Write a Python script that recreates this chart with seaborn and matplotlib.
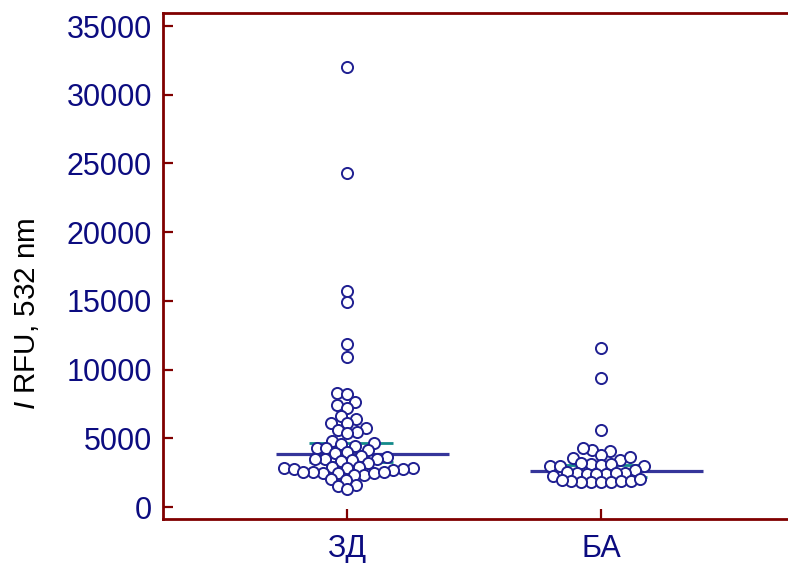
import matplotlib
matplotlib.use("Agg")
import matplotlib.pyplot as plt
import seaborn as sns
import pandas as pd

# ---- data ----
groups = ["ЗД", "БА"]
zd_values = [32000, 24300, 15700, 14900, 11850, 10900,
             8280, 8260, 7650, 7420, 7230,
             6620, 6400, 6100, 6080,
             5730, 5600, 5480, 5360,
             4830, 4680, 4590, 4440,
             4270, 4260, 4150, 4020, 3900,
             3710, 3620,
             3470, 3460, 3480, 3420, 3370, 3180,
             2820, 2810, 2930, 2940, 2860,
             2740, 2750, 2730,
             2330, 2320,
             2450, 2460, 2440,
             2570, 2560, 2580,
             1970, 2010,
             1600, 1530, 1290]
ba_values = [11550, 9400, 5620,
             4100, 4120, 4270,
             3790,
             3420, 3610, 3590,
             2980, 2990, 3160, 3060, 2970, 3180, 3150,
             2690,
             2450, 2400, 2410, 2400, 2500, 2500, 2520, 2260,
             1800, 1800, 1800, 1800, 1890, 1900, 1890, 1970, 2010]
medians = [3835, 2640]
ci_low = [3253, 2200]
ci_high = [4658, 3050]
y_ticks = [0, 5000, 10000, 15000, 20000, 25000, 30000, 35000]
y_label = r"$\mathit{I}$ RFU, 532 nm"

# ---- style ----
sns.set_style("white")
plt.rcParams["font.family"] = ["Liberation Sans", "DejaVu Sans"]
plt.rcParams["mathtext.fontset"] = "custom"
plt.rcParams["mathtext.it"] = "Liberation Sans:italic"
plt.rcParams["mathtext.rm"] = "Liberation Sans"

frame_col = "#800000"
navy_txt = "#0c0c80"
pt_col = "#1f1f91"
med_col = "#35359a"
ci_col = "#138a8a"

df = pd.DataFrame({
    "group": [groups[0]] * len(zd_values) + [groups[1]] * len(ba_values),
    "value": zd_values + ba_values,
})

fig = plt.figure(figsize=(7.88, 5.63), dpi=100)
ax = fig.add_axes([0.2069, 0.0782, 0.7931, 0.8987])

# swarm layout computed with slightly smaller markers, drawn larger
sns.swarmplot(data=df, x="group", y="value", order=groups, ax=ax,
              color="white", edgecolor=pt_col, linewidth=1.0, size=5.8,
              zorder=3)

for i, g in enumerate(groups):
    ax.hlines(medians[i], i - 0.28, i + 0.40, color=med_col, lw=2.3, zorder=1.5)
    ax.hlines([ci_low[i], ci_high[i]], i - 0.15, i + 0.18, color=ci_col,
              lw=2.0, zorder=1.4)

ax.set_xlim(-0.724, 1.736)
ax.set_ylim(-870, 35950)
ax.set_yticks(y_ticks)
ax.set_yticklabels([str(v) for v in y_ticks])
ax.set_xlabel("")
ax.set_ylabel(y_label, fontsize=21.3, color="black")
ax.yaxis.set_label_coords(-0.195, 0.406)

for side in ["left", "bottom", "top"]:
    ax.spines[side].set_color(frame_col)
    ax.spines[side].set_linewidth(2.0)
ax.spines["right"].set_visible(False)

ax.tick_params(axis="both", direction="in", length=7.5, width=1.6,
               color=frame_col, labelcolor=navy_txt, labelsize=22)
ax.tick_params(axis="y", pad=8, left=True)
ax.tick_params(axis="x", pad=11, bottom=True)

# fix swarm positions, then enlarge markers so they overlap like the reference
fig.canvas.draw()
for coll in ax.collections:
    if "draw" in coll.__dict__:
        del coll.draw
        coll.set_sizes([8.0 ** 2])
        coll.set_linewidth(1.4)

fig.savefig("out.png", dpi=100)
